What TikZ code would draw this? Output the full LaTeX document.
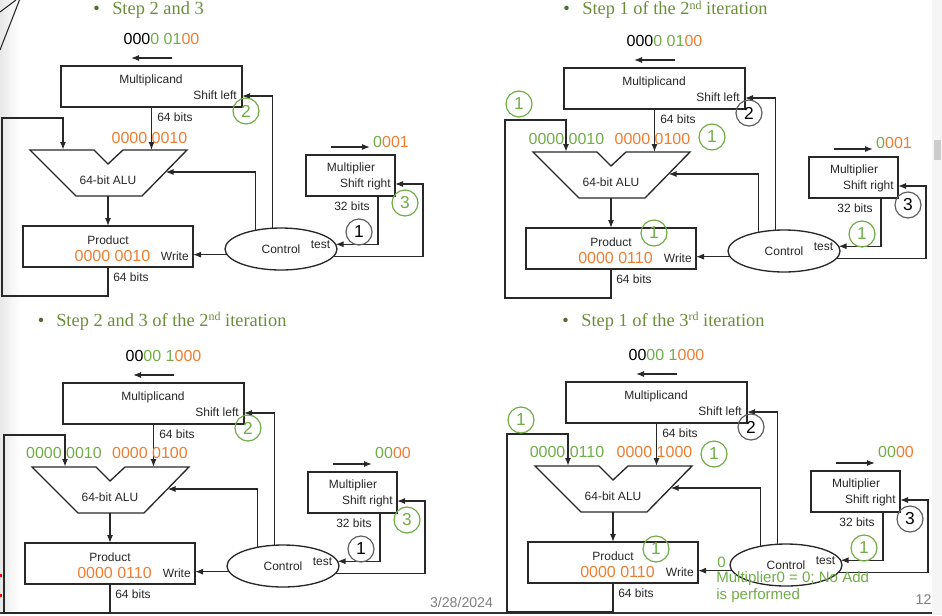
\documentclass[tikz,border=0pt]{standalone}
\usepackage{fontspec}
\setmainfont{Liberation Serif}
\setsansfont{Liberation Sans}
\usetikzlibrary{arrows.meta,shapes.geometric}

\definecolor{titlegreen}{RGB}{108,142,58}
\definecolor{numgreen}{RGB}{112,173,71}
\definecolor{numorange}{RGB}{237,125,49}
\definecolor{wire}{RGB}{40,40,40}
\definecolor{ringgray}{RGB}{95,95,95}

\newcommand{\numg}[1]{\textcolor{numgreen}{#1}}
\newcommand{\numo}[1]{\textcolor{numorange}{#1}}
\newcommand{\ordsup}[1]{\raisebox{0.6ex}{\fontsize{9}{10}\selectfont #1}}

\tikzset{
  box/.style={draw=wire, line width=1pt, inner sep=0pt, outer sep=0pt},
  wirearrow/.style={draw=wire, line width=0.9pt, -{Latex[length=6pt,width=4.5pt]}},
  lbl/.style={font=\sffamily\fontsize{9}{10}\selectfont, inner sep=0pt, text=black!85},
  num/.style={font=\sffamily\fontsize{12}{14}\selectfont, inner sep=0pt},
  note/.style={font=\sffamily\fontsize{11.3}{13}\selectfont, inner sep=0pt, text=numgreen, anchor=west},
  ringg/.style={circle, draw=numgreen, line width=0.9pt, minimum size=19.5pt, inner sep=0pt,
    text=numgreen, font=\sffamily\fontsize{13}{14}\selectfont},
  ringk/.style={ringg, draw=ringgray, text=black},
  heading/.style={font=\fontsize{13.8}{16}\selectfont, text=titlegreen, inner sep=0pt, anchor=base west},
  bullet/.style={heading, anchor=base, text=titlegreen!75!black},
}

% one copy of the multiply hardware: #1 prefix, #2 multiplicand, #3 multiplier,
% #4 product, #5 height of the multiplier value
\newcommand{\multpanel}[5]{%
  \node[box, minimum width=135.75pt, minimum height=30.75pt] (#1mcand) at (151.5,86.5) {};
  \node[lbl] (#1tmcand) at (151,80) {Multiplicand};
  \node[lbl, anchor=east] (#1tshl) at (237,95) {Shift left};
  \node[num] (#1vmcand) at (161.5,38.5) {#2};
  \coordinate (#1mcl) at (172,58);
  \coordinate (#1mcr) at (131,58);
  \draw[wirearrow] (#1mcl) -- (#1mcr);

  \draw[box] (30,150) -- (94,150) -- (108,164) -- (123,150) -- (187,150) -- (142,196) -- (76,196) -- cycle;
  \node[lbl] (#1alu) at (108,180) {64-bit ALU};
  \coordinate (#1aluin1) at (63,150);
  \coordinate (#1aluin2) at (151.5,150);
  \coordinate (#1aluout) at (108,196);
  \coordinate (#1aluctl) at (165.5,172);

  \node[box, minimum width=127.5pt, minimum height=30.75pt] (#1prod) at (108,246.5) {};
  \node[lbl] (#1tprod) at (108,240) {Product};
  \node[num] (#1vprod) at (112.5,256) {#4};
  \node[lbl, anchor=east] (#1twrite) at (189,256) {Write};

  \node[box, ellipse, minimum width=84pt, minimum height=31.5pt] (#1ctrl) at (281,249) {};
  \node[lbl] (#1tctrl) at (281,249) {Control};
  \node[lbl] (#1ttest) at (320.5,245) {test};

  \node[box, minimum width=66.75pt, minimum height=30.75pt] (#1mult) at (350.5,175.5) {};
  \node[lbl] (#1tmult) at (351,168) {Multiplier};
  \node[lbl, anchor=east] (#1tshr) at (391,184) {Shift right};
  \node[num] (#1vmult) at (391,#5) {#3};
  \coordinate (#1mrl) at (331,147);
  \coordinate (#1mrr) at (370,147);
  \draw[wirearrow] (#1mrl) -- (#1mrr);

  \node[lbl, anchor=west] (#1b64a) at (157,117) {64 bits};
  \node[lbl, anchor=west] (#1b64b) at (113,277) {64 bits};
  \node[lbl] (#1b32) at (352,206) {32 bits};

  \coordinate (#1loopa) at (108,296);
  \coordinate (#1loopb) at (2,118);
  \coordinate (#1shl) at (242,96);
  \coordinate (#1m32) at (378,196);
  \coordinate (#1srturn) at (423,184);
  \coordinate (#1shr) at (395,184);

  \draw[wirearrow] (#1mcand) -- (#1aluin2);
  \draw[wirearrow] (#1aluout) -- (#1prod);
  \draw[wirearrow, line width=1.2pt] (#1prod) -- (#1loopa) -| (#1loopb) -| (#1aluin1);
  \draw[wirearrow] (#1ctrl.186.4) -- (#1ctrl.186.4 -| #1prod.east);
  \draw[wirearrow] (#1ctrl.144.4) |- (#1aluctl);
  \draw[wirearrow] (#1ctrl.113.5) |- (#1shl);
  \draw[wirearrow] (#1m32) |- (#1ctrl.5.25);
  \draw[wirearrow] (#1ctrl.-8.8) -| (#1srturn) -- (#1shr);
}

\begin{document}
\begin{tikzpicture}[x=0.75pt, y=-0.75pt]
  \useasboundingbox (0,0) rectangle (942,615);
  \shade[left color=black!9, right color=white] (0,0) rectangle (20,612);
  \fill[black!4] (932,0) rectangle (942,615);
  \fill[black!20] (934,140) rectangle (941,160);
  \draw[wire, line width=0.8pt] (0,50) -- (19.5,0);
  \draw[wire, line width=0.8pt] (0,12) -- (16,0);
  \draw[black!80, line width=1.2pt] (0,613) -- (932,613);
  \fill[red] (0,574) rectangle (2,577);
  \fill[red] (0,594) rectangle (2,597);

  % titles
  \node[bullet] (b1) at (96.5,14.5) {\textbullet};
  \node[heading] (t1) at (112,14.5) {Step 2 and 3};
  \node[bullet] (b2) at (566.5,14.5) {\textbullet};
  \node[heading] (t2) at (582,14.5) {Step 1 of the 2\ordsup{nd} iteration};
  \node[bullet] (b3) at (41,326) {\textbullet};
  \node[heading] (t3) at (56,326) {Step 2 and 3 of the 2\ordsup{nd} iteration};
  \node[bullet] (b4) at (565.5,326) {\textbullet};
  \node[heading] (t4) at (581,326) {Step 1 of the 3\ordsup{rd} iteration};

  % step 2 and 3
  \begin{scope}
    \multpanel{p1}{000\numg{0 01}\numo{00}}{\numg{0}\numo{001}}{\numo{0000 0010}}{142}
    \node[num, text=numorange] (p1inr) at (149.5,138) {0000 0010};
    \node[ringg] (p1c2) at (246,111) {2};
    \node[ringg] (p1c3) at (405,203) {3};
    \node[ringk] (p1c1) at (359,232) {1};
  \end{scope}

  % step 1, 2nd iteration
  \begin{scope}[shift={(503,2)}]
    \multpanel{p2}{000\numg{0 01}\numo{00}}{\numg{0}\numo{001}}{\numo{0000 0110}}{141}
    \node[num, text=numgreen] (p2inl) at (63.5,137) {0000 0010};
    \node[num, text=numorange] (p2inr) at (149.5,137) {0000 0100};
    \node[ringg] (p2c1a) at (16,102) {1};
    \node[ringg] (p2c1b) at (209,135) {1};
    \node[ringg] (p2c1c) at (151,231) {1};
    \node[ringk] (p2c2) at (246,111) {2};
    \node[ringk] (p2c3) at (405,203) {3};
    \node[ringg] (p2c1) at (359,232) {1};
  \end{scope}

  % step 2 and 3, 2nd iteration
  \begin{scope}[shift={(2,317)}]
    \multpanel{p3}{00\numg{00 1}\numo{000}}{\numg{00}\numo{00}}{\numo{0000 0110}}{136}
    \node[num, text=numgreen] (p3inl) at (62,136) {0000 0010};
    \node[num, text=numorange] (p3inr) at (148,136) {0000 0100};
    \node[ringg] (p3c2) at (246,111) {2};
    \node[ringg] (p3c3) at (405,203) {3};
    \node[ringk] (p3c1) at (359,232) {1};
  \end{scope}

  % step 1, 3rd iteration
  \begin{scope}[shift={(505,316)}]
    \multpanel{p4}{00\numg{00 1}\numo{000}}{\numg{00}\numo{00}}{\numo{0000 0110}}{136}
    \node[num, text=numgreen] (p4inl) at (62,136) {0000 0110};
    \node[num, text=numorange] (p4inr) at (149.5,136) {0000 1000};
    \node[ringg] (p4c1a) at (16,104) {1};
    \node[ringg] (p4c1b) at (209,138) {1};
    \node[ringg] (p4c1c) at (151,233) {1};
    \node[ringk] (p4c2) at (246,111) {2};
    \node[ringk] (p4c3) at (405,203) {3};
    \node[ringg] (p4c1) at (359,232) {1};
    \node[note] (p4zero) at (212,246) {0};
    \node[note] (p4msg1) at (211,263) {Multiplier0 = 0; No Add};
    \node[note] (p4msg2) at (211,280) {is performed};
  \end{scope}

  % footer
  \node[font=\sffamily\fontsize{10.6}{12}\selectfont, text=black!50, inner sep=0pt] (date) at (461.5,602) {3/28/2024};
  \node[font=\sffamily\fontsize{10.6}{12}\selectfont, text=black!50, inner sep=0pt] (page) at (923.5,600) {12};
\end{tikzpicture}
\end{document}
